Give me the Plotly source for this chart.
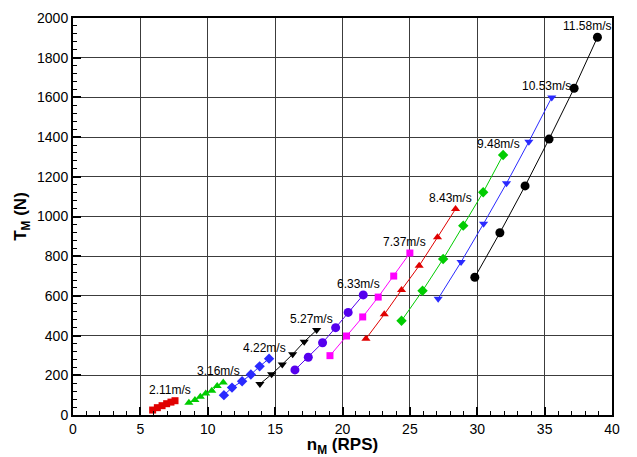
import plotly.graph_objects as go

# Model propeller speed n_M (RPS) and thrust T_M (N) at each towing speed
speeds = ["2.11m/s", "3.16m/s", "4.22m/s", "5.27m/s", "6.33m/s",
          "7.37m/s", "8.43m/s", "9.48m/s", "10.53m/s", "11.58m/s"]

n_211 = [5.91, 6.26, 6.61, 6.95, 7.27, 7.57]
t_211 = [25, 37, 47, 57, 65, 72]

n_316 = [8.6, 9.05, 9.45, 9.85, 10.3, 10.7, 11.15]
t_316 = [62, 76, 92, 108, 122, 146, 164]

n_422 = [11.2, 11.8, 12.55, 13.2, 13.85, 14.55]
t_422 = [100, 138, 170, 204, 245, 284]

n_527 = [13.87, 14.74, 15.53, 16.30, 17.16, 18.08]
t_527 = [156, 205, 255, 306, 369, 428]

n_633 = [16.47, 17.46, 18.52, 19.49, 20.42, 21.54]
t_633 = [227, 291, 364, 440, 517, 605]

n_737 = [19.07, 20.3, 21.5, 22.65, 23.8, 25.0]
t_737 = [299, 398, 494, 594, 700, 816]

n_843 = [21.74, 23.1, 24.38, 25.69, 27.05, 28.39]
t_843 = [384, 507, 630, 752, 895, 1038]

n_948 = [24.38, 25.94, 27.47, 28.96, 30.44, 31.92]
t_948 = [475, 626, 786, 954, 1122, 1310]

n_1053 = [27.1, 28.8, 30.47, 32.17, 33.83, 35.53]
t_1053 = [586, 771, 964, 1167, 1377, 1600]

n_1158 = [29.82, 31.68, 33.55, 35.33, 37.19, 38.92]
t_1158 = [694, 918, 1154, 1390, 1646, 1903]

series = [
    (n_211, t_211, "#e00000", "square", 7),
    (n_316, t_316, "#00cc00", "triangle-up", 8),
    (n_422, t_422, "#2a2aff", "diamond", 8),
    (n_527, t_527, "#000000", "triangle-down", 8),
    (n_633, t_633, "#5500ee", "circle", 9),
    (n_737, t_737, "#ff00ff", "square", 7),
    (n_843, t_843, "#e00000", "triangle-up", 8),
    (n_948, t_948, "#00cc00", "diamond", 8),
    (n_1053, t_1053, "#2a2aff", "triangle-down", 8),
    (n_1158, t_1158, "#000000", "circle", 9),
]

fig = go.Figure()
for (xs, ys, col, sym, sz), name in zip(series, speeds):
    fig.add_trace(go.Scatter(
        x=xs, y=ys, mode="lines+markers", name=name,
        line=dict(color=col, width=1),
        marker=dict(color=col, symbol=sym, size=sz, line=dict(width=0)),
        showlegend=False,
    ))
    # speed label just above the last point of each curve
    fig.add_annotation(
        x=xs[-1], y=ys[-1], text=name, showarrow=False,
        xshift=-10 if name == "11.58m/s" else -5, yshift=11,
        font=dict(family="Liberation Sans, Arial", size=12, color="black"),
    )

axis_common = dict(
    showline=True, linecolor="black", linewidth=2, mirror=True,
    showgrid=True, gridcolor="#3c3c3c", gridwidth=1,
    ticks="inside", ticklen=8, tickwidth=2, tickcolor="black",
    zeroline=False, automargin=False,
    tickfont=dict(family="Liberation Sans, Arial", size=14, color="black"),
)

fig.update_xaxes(
    range=[0, 40], dtick=5, tick0=0,
    minor=dict(ticks="inside", ticklen=4, tickwidth=1, tickcolor="black", dtick=1, showgrid=False),
    title=dict(text="<b>n<sub>M</sub> (RPS)</b>", font=dict(family="Liberation Sans, Arial", size=17, color="black"), standoff=4),
    **axis_common,
)
fig.update_yaxes(
    range=[0, 2000], dtick=200, tick0=0,
    minor=dict(ticks="inside", ticklen=4, tickwidth=1, tickcolor="black", dtick=40, showgrid=False),
    title=dict(text="<b>T<sub>M</sub> (N)</b>", font=dict(family="Liberation Sans, Arial", size=17, color="black"), standoff=6),
    **axis_common,
)

fig.update_layout(
    width=637, height=457,
    margin=dict(l=73, r=25, t=18, b=42),
    paper_bgcolor="white", plot_bgcolor="white",
)

fig.write_html("out.html")
